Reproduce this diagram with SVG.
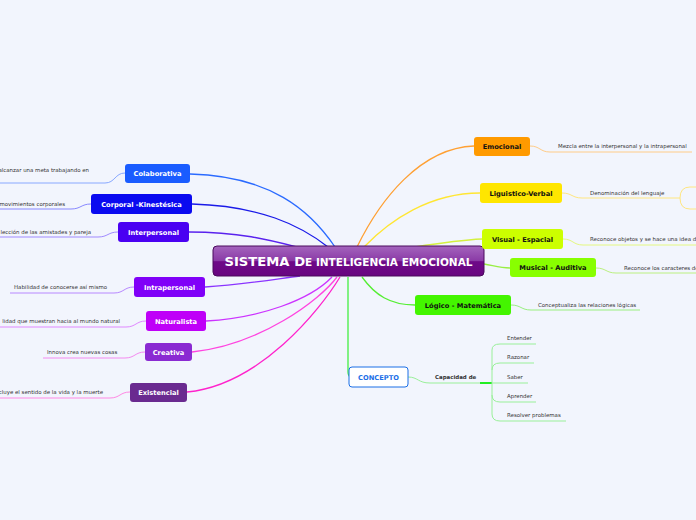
<svg xmlns="http://www.w3.org/2000/svg" width="696" height="520" viewBox="0 0 696 520">
<defs>
<linearGradient id="gc" x1="0" y1="0" x2="0" y2="1">
<stop offset="0" stop-color="#a464bd"/><stop offset="0.5" stop-color="#8a3aa6"/><stop offset="0.52" stop-color="#6e0a88"/><stop offset="1" stop-color="#680580"/>
</linearGradient>
</defs>
<style>
.n text{font-family:"DejaVu Sans",Verdana,sans-serif;font-weight:bold;font-size:6.7px;text-anchor:middle}
.w{fill:#fff}
.k{fill:#111}
.l{font-family:"DejaVu Sans",Verdana,sans-serif;font-size:5.45px;fill:#333}
.c{fill:none;stroke-width:1.3}
.u{fill:none;stroke-width:1}
</style>
<rect width="696" height="520" fill="#f2f5fd"/>
<g id="connectors">
<path class="c" stroke="#2a6aff" d="M190,174 C270,176 310,210 335,247"/>
<path class="c" stroke="#1a1ae8" d="M192,204 C260,206 300,225 328,247"/>
<path class="c" stroke="#5a22ee" d="M189,232 C240,232 270,240 297,247"/>
<path class="c" stroke="#8a33ff" d="M205,287 C240,285 270,280 300,276"/>
<path class="c" stroke="#cc33ff" d="M206,321 C260,318 310,300 332,277"/>
<path class="c" stroke="#ff44e0" d="M192,352 C260,345 320,300 337,277"/>
<path class="c" stroke="#ff22cc" d="M187,392 C260,385 320,310 340,277"/>
<path class="c" stroke="#ffa033" d="M357,247 C380,200 420,148 474,146"/>
<path class="c" stroke="#ffe633" d="M364,247 C390,220 430,193 480,193"/>
<path class="c" stroke="#d4f040" d="M415,247 C440,243 460,240 482,239"/>
<path class="c" stroke="#99ee44" d="M484,264 C495,266 500,268 510,268"/>
<path class="c" stroke="#55ee33" d="M362,277 C375,295 390,305 415,305"/>
<path class="c" stroke="#44ee44" d="M348,277 L348,372 Q348,377 352,377"/>
<path class="u" stroke="#88a8ff" d="M125,173 C115,173 115,183 105,183 L0,183"/>
<path class="u" stroke="#8888ff" d="M91,204 C81,204 81,209 71,209 L0,209"/>
<path class="u" stroke="#a08aff" d="M118,232 C108,232 108,237 98,237 L0,237"/>
<path class="u" stroke="#b888ff" d="M134,287 C124,287 124,293 114,293 L10,293"/>
<path class="u" stroke="#e088ff" d="M146,321 C136,321 136,327 126,327 L0,327"/>
<path class="u" stroke="#f48af0" d="M145,352 C135,352 135,358 125,358 L43,358"/>
<path class="u" stroke="#ff88e4" d="M130,392 C120,392 120,398 110,398 L0,398"/>
<path class="u" stroke="#ffcc88" d="M530,146 C540,146 540,152 550,152 L692,152"/>
<path class="u" stroke="#ffe680" d="M562,193 C572,193 572,198 582,198 L680,198"/>
<path class="u" stroke="#ffe680" d="M696,187 L690,187 Q680,187 680,198 Q680,209 690,209 L696,209"/>
<path class="u" stroke="#e4f880" d="M563,239 C573,239 573,245 583,245 L696,245"/>
<path class="u" stroke="#bbf080" d="M596,268 C606,268 606,273 616,273 L696,273"/>
<path class="u" stroke="#99f080" d="M511,305 C521,305 521,310 531,310 L640,310"/>
<path class="u" stroke="#99f099" d="M408,377 C418,377 418,383 430,383 L480,383"/>
<path stroke="#22ee22" stroke-width="2" d="M480,383 L492,383"/>
<path class="u" stroke="#99f099" d="M492,383 L492,350 Q492,344 500,344 L536,344"/>
<path class="u" stroke="#99f099" d="M492,370 Q492,363 500,363 L534,363"/>
<path class="u" stroke="#99f099" d="M492,383 L528,383"/>
<path class="u" stroke="#99f099" d="M492,383 L492,395 Q492,402 500,402 L536,402"/>
<path class="u" stroke="#99f099" d="M492,395 L492,414 Q492,421 500,421 L566,421"/>
</g>
<g id="center">
<rect x="213" y="246" width="271" height="30" rx="4" fill="url(#gc)" stroke="#4a0a5c" stroke-width="1"/>
<text x="348.5" y="266" font-family="'DejaVu Sans',Verdana,sans-serif" font-weight="bold" fill="#fff" text-anchor="middle" textLength="248" lengthAdjust="spacingAndGlyphs"><tspan font-size="12.5">SISTEMA D</tspan><tspan font-size="10">E INTELIGENCIA EMOCIONAL</tspan></text>
</g>
<g id="colaborativa" class="n"><rect x="125" y="164" width="65" height="19" rx="3" fill="#1a5cff"/><text class="w" x="157.5" y="176">Colaborativa</text></g>
<g id="corporal" class="n"><rect x="91" y="194" width="101" height="20" rx="3" fill="#0a0af0"/><text class="w" x="141.5" y="206.5">Corporal -Kinestésica</text></g>
<g id="interpersonal" class="n"><rect x="118" y="222" width="71" height="20" rx="3" fill="#4a00f2"/><text class="w" x="153.5" y="234.5">Interpersonal</text></g>
<g id="intrapersonal" class="n"><rect x="134" y="277" width="71" height="20" rx="3" fill="#8000f8"/><text class="w" x="169.5" y="289.5">Intrapersonal</text></g>
<g id="naturalista" class="n"><rect x="146" y="311" width="60" height="20" rx="3" fill="#bf00f8"/><text class="w" x="176" y="323.5">Naturalista</text></g>
<g id="creativa" class="n"><rect x="145" y="343" width="47" height="18" rx="3" fill="#8a2ad2"/><text class="w" x="168.5" y="354.5">Creativa</text></g>
<g id="existencial" class="n"><rect x="130" y="383" width="57" height="19" rx="3" fill="#6a2a90"/><text class="w" x="158.5" y="395">Existencial</text></g>
<g id="emocional" class="n"><rect x="474" y="137" width="56" height="19" rx="3" fill="#ff9a00"/><text class="k" x="502" y="149">Emocional</text></g>
<g id="linguistico" class="n"><rect x="480" y="183" width="82" height="20" rx="3" fill="#ffe600"/><text class="k" x="521" y="195.5">Liguistico-Verbal</text></g>
<g id="visual" class="n"><rect x="482" y="229" width="81" height="20" rx="3" fill="#ccff00"/><text class="k" x="522.5" y="241.5">Visual - Espacial</text></g>
<g id="musical" class="n"><rect x="510" y="258" width="86" height="19" rx="3" fill="#88ff00"/><text class="k" x="553" y="270">Musical - Auditiva</text></g>
<g id="logico" class="n"><rect x="415" y="295" width="96" height="20" rx="3" fill="#44f500"/><text class="k" x="463" y="307.5">Lógico - Matemática</text></g>
<g id="concepto" class="n"><rect x="349" y="367" width="59" height="20" rx="3" fill="#fff" stroke="#1a6ee6" stroke-width="1"/><text x="378.5" y="379.5" fill="#1a6ee6">CONCEPTO</text></g>
<g id="labels">
<text class="l" x="89" y="172" text-anchor="end">alcanzar una meta trabajando en</text>
<text class="l" x="65" y="206" text-anchor="end">movimientos corporales</text>
<text class="l" x="91" y="234" text-anchor="end">lección de las amistades y pareja</text>
<text class="l" x="14" y="289">Habilidad de conocerse así mismo</text>
<text class="l" x="120" y="323" text-anchor="end">lidad que muestran hacia al mundo natural</text>
<text class="l" x="47" y="354">Innova crea nuevas cosas</text>
<text class="l" x="103" y="394" text-anchor="end">cluye el sentido de la vida y la muerte</text>
<text class="l" x="558" y="148">Mezcla entre la interpersonal y la intrapersonal</text>
<text class="l" x="590" y="195">Denominación del lenguaje</text>
<text class="l" x="590" y="241">Reconoce objetos y se hace una idea de</text>
<text class="l" x="624" y="270">Reconoce los caracteres de</text>
<text class="l" x="538" y="307">Conceptualiza las relaciones lógicas</text>
<text class="l" x="435" y="379" font-weight="bold" fill="#111">Capacidad de</text>
<text class="l" x="507" y="340">Entender</text>
<text class="l" x="507" y="359">Razonar</text>
<text class="l" x="507" y="379">Saber</text>
<text class="l" x="507" y="398">Aprender</text>
<text class="l" x="507" y="417">Resolver problemas</text>
</g>
</svg>
